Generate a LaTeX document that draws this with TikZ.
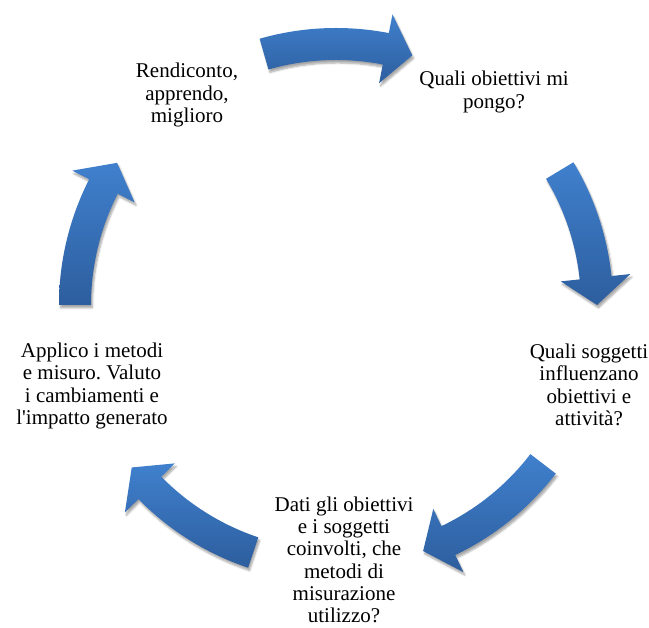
\documentclass[tikz,border=0pt]{standalone}
\usepackage{fontspec}
\setmainfont{Liberation Serif}
\usetikzlibrary{shadows.blur}
\frenchspacing
\definecolor{arrowtop}{RGB}{64,128,205}
\definecolor{arrowbot}{RGB}{45,94,158}
\tikzset{
  arrowfill/.style={top color=arrowtop, bottom color=arrowbot, draw=none,
    blur shadow={shadow xshift=1.5pt, shadow yshift=-3pt, shadow blur steps=6, shadow opacity=35}},
  txtnode/.style={align=center, font=\fontsize{21}{22.3}\selectfont, inner sep=0pt}
}
% curved block arrow centred on angle #1, half-span #2, running clockwise
\newcommand{\cycarrow}[2]{%
  \pgfmathsetmacro\cyA{#1+#2}%
  \pgfmathsetmacro\cyC{#1-#2}%
  \pgfmathsetmacro\cyB{#1-#2+6}%
  \path[arrowfill] (\cyA:277) arc[start angle=\cyA, end angle=\cyB, radius=277]
    -- (\cyB:296) -- (\cyC:261) -- (\cyB:226) -- (\cyB:245)
    arc[start angle=\cyB, end angle=\cyA, radius=245] -- cycle;
}
\begin{document}
\begin{tikzpicture}[x=1pt,y=1pt]
\useasboundingbox (0,0) rectangle (649,628);
\begin{scope}[shift={(336,323)}]
  \cycarrow{89.5}{16.5}
  \cycarrow{15.5}{15.5}
  \cycarrow{-54}{16.5}
  \cycarrow{-125}{16.5}
  \cycarrow{163.5}{16.5}
\end{scope}
\node[txtnode] (n1) at (187,533) {Rendiconto,\\apprendo,\\miglioro};
\node[txtnode] (n2) at (494,536) {Quali obiettivi mi\\pongo?};
\node[txtnode] (n3) at (589,243) {Quali soggetti\\influenzano\\obiettivi e\\attività?};
\node[txtnode] (n4) at (344,68) {Dati gli obiettivi\\e i soggetti\\coinvolti, che\\metodi di\\misurazione\\utilizzo?};
\node[txtnode] (n5) at (92,242) {Applico i metodi\\e misuro. Valuto\\i cambiamenti e\\l\textquotesingle impatto generato};
\end{tikzpicture}
\end{document}
